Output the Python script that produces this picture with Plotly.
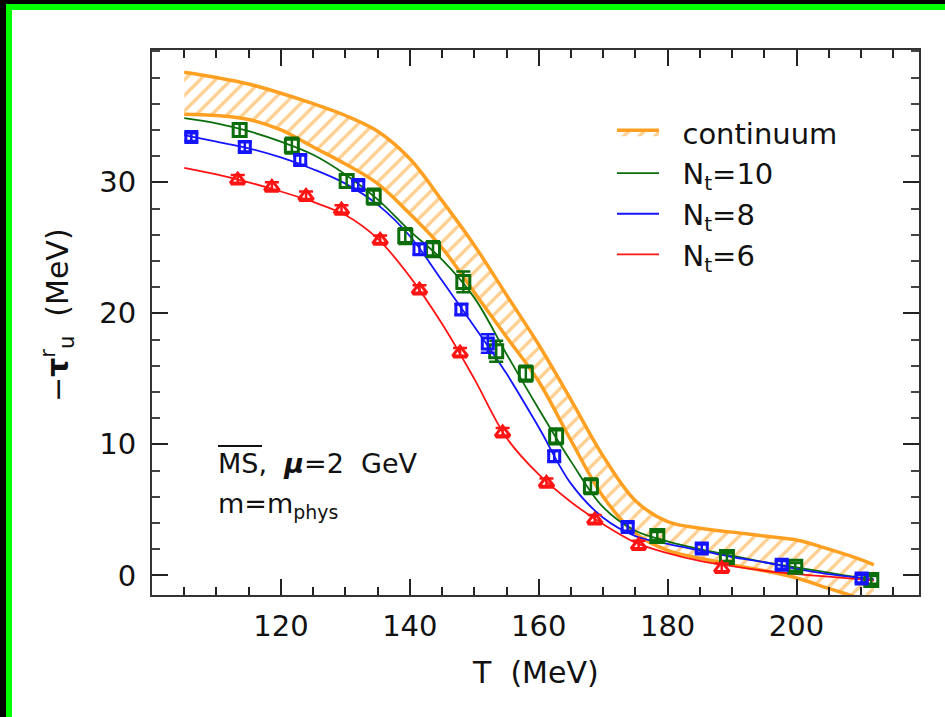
import plotly.graph_objects as go

# ---------------- data ----------------
curve_T = [105, 110, 115, 120, 125, 130, 135, 140, 145, 150, 155, 160, 165, 170,
           175, 180, 185, 190, 195, 200, 205, 210, 212]
band_upper = [38.4, 38.0, 37.5, 36.8, 36.0, 35.1, 33.9, 31.8, 28.6, 25.2, 21.4, 17.6,
              13.4, 9.1, 5.7, 4.1, 3.6, 3.3, 3.0, 2.7, 2.0, 1.2, 0.8]
band_lower = [35.2, 35.1, 34.8, 34.0, 32.7, 31.4, 29.9, 27.6, 25.0, 21.6, 18.2, 14.8,
              10.3, 6.0, 3.2, 1.9, 1.3, 0.8, 0.35, -0.2, -1.0, -1.8, -2.2]
fit_nt10 = [34.9, 34.5, 33.9, 33.1, 32.1, 30.6, 28.7, 26.3, 24.1, 21.2, 16.9, 12.7,
            8.7, 5.2, 3.4, 2.6, 2.0, 1.5, 1.0, 0.6, 0.2, -0.2, -0.35]
fit_nt8 = [33.6, 33.1, 32.6, 31.9, 31.0, 29.9, 28.3, 25.9, 22.5, 19.0, 15.4, 11.3,
           7.0, 4.4, 3.0, 2.4, 1.9, 1.4, 1.0, 0.5, 0.1, -0.2, -0.3]
fit_nt6 = [31.1, 30.6, 30.0, 29.3, 28.5, 27.5, 25.7, 22.8, 19.2, 15.0, 10.5, 7.7,
           5.6, 3.9, 2.5, 1.7, 1.1, 0.7, 0.35, 0.1, -0.1, -0.3, -0.4]

T_nt10 = [113.6, 121.7, 130.2, 134.4, 139.3, 143.6, 148.3, 153.4, 158.0, 162.7, 168.1,
          178.4, 189.2, 199.8, 211.6]
y_nt10 = [34.0, 32.8, 30.1, 28.9, 25.9, 24.9, 22.4, 17.1, 15.4, 10.6, 6.8,
          3.0, 1.4, 0.65, -0.35]
e_nt10 = [0.5, 0.6, 0.5, 0.6, 0.6, 0.6, 0.8, 0.8, 0.6, 0.6, 0.6, 0.3, 0.3, 0.3, 0.3]

T_nt8 = [106.1, 114.4, 123.0, 132.0, 141.5, 148.0, 152.1, 162.4, 173.8, 185.3, 197.7, 210.1]
y_nt8 = [33.45, 32.7, 31.7, 29.8, 24.9, 20.3, 17.7, 9.1, 3.7, 2.05, 0.8, -0.25]
e_nt8 = [0.3, 0.35, 0.35, 0.3, 0.4, 0.4, 0.7, 0.4, 0.3, 0.3, 0.3, 0.3]

T_nt6 = [113.3, 118.6, 123.9, 129.4, 135.4, 141.5, 147.8, 154.4, 161.2, 168.7, 175.5, 188.4]
y_nt6 = [30.2, 29.65, 28.95, 27.9, 25.6, 21.8, 17.0, 10.9, 7.05, 4.25, 2.3, 0.55]
e_nt6 = [0.35] * 12

x_ticks = [120, 140, 160, 180, 200]
y_ticks = [0, 10, 20, 30]
x_range = [100, 219]
y_range = [-1.5, 40.1]

# ---------------- style ----------------
ORANGE = "#FFA022"
GREEN = "#0B6E0B"
BLUE = "#1414FF"
RED = "#FF1414"
FONT = "DejaVu Sans"
TXT = "#111111"

W, H = 945, 717
ML, MR, MT, MB = 152, 26, 50, 122
PW, PH = W - ML - MR, H - MT - MB


def px(x):
    return (x - ML) / PW


def py(y):
    return (H - MB - y) / PH


fig = go.Figure()

# continuum band
fig.add_trace(go.Scatter(x=curve_T, y=band_lower, mode="lines",
                         line=dict(color=ORANGE, width=3.5, shape="spline", smoothing=1.0),
                         showlegend=False, hoverinfo="skip"))
fig.add_trace(go.Scatter(x=curve_T, y=band_upper, mode="lines",
                         name="\u00a0\u00a0continuum",
                         line=dict(color=ORANGE, width=3.5, shape="spline", smoothing=1.0),
                         fill="tonexty", fillcolor="rgba(0,0,0,0)",
                         fillpattern=dict(shape="/", fgcolor=ORANGE, bgcolor="white",
                                          size=11, solidity=0.3),
                         legendrank=1, hoverinfo="skip"))

series = [
    ("\u00a0\u00a0N<sub>t</sub>=10", fit_nt10, T_nt10, y_nt10, e_nt10, GREEN, "square-open", 13, 2),
    ("\u00a0\u00a0N<sub>t</sub>=8", fit_nt8, T_nt8, y_nt8, e_nt8, BLUE, "square-open", 11, 3),
    ("\u00a0\u00a0N<sub>t</sub>=6", fit_nt6, T_nt6, y_nt6, e_nt6, RED, "triangle-up-open", 13, 4),
]
for name, fit, Tp, yp, ep, col, sym, size, rank in series:
    fig.add_trace(go.Scatter(x=curve_T, y=fit, mode="lines", name=name,
                             line=dict(color=col, width=1.8, shape="spline", smoothing=1.0),
                             legendrank=rank, hoverinfo="skip"))
for name, fit, Tp, yp, ep, col, sym, size, rank in series:
    fig.add_trace(go.Scatter(x=Tp, y=yp, mode="markers", showlegend=False,
                             marker=dict(symbol=sym, size=size, color=col,
                                         line=dict(color=col, width=3)),
                             error_y=dict(type="data", array=ep, color=col,
                                          thickness=2.5, width=7)))

axis_common = dict(showline=True, linecolor="#333333", linewidth=2, mirror="ticks",
                   ticks="inside", tickcolor="#222222", tickwidth=2, ticklen=16,
                   showgrid=False, zeroline=False,
                   tickfont=dict(family=FONT, size=29, color=TXT))

fig.update_xaxes(range=x_range, tickvals=x_ticks, ticklabelstandoff=4,
                 minor=dict(ticks="inside", ticklen=8, tickwidth=2, tickcolor="#222222",
                            tick0=100, dtick=5, showgrid=False),
                 **axis_common)
fig.update_yaxes(range=y_range, tickvals=y_ticks, ticklabelstandoff=8,
                 minor=dict(ticks="inside", ticklen=8, tickwidth=2, tickcolor="#444444",
                            tick0=0, dtick=2, showgrid=False),
                 **axis_common)

annotations = [
    dict(text="T  (MeV)", x=px(535), y=py(672), xref="paper", yref="paper",
         xanchor="center", yanchor="middle",
         showarrow=False, font=dict(family=FONT, size=30, color=TXT)),
    dict(text="−<b>τ</b><sup>r</sup><sub>u</sub>  (MeV)", x=px(57), y=py(315),
         xref="paper", yref="paper", textangle=-90, showarrow=False,
         xanchor="center", yanchor="middle",
         font=dict(family=FONT, size=30, color=TXT)),
    dict(text="MS,  <b><i>μ</i></b>=2  GeV", x=px(216), y=py(463), xref="paper",
         yref="paper", xanchor="left", yanchor="middle", showarrow=False,
         font=dict(family=FONT, size=27, color=TXT)),
    dict(text="m=m<sub>phys</sub>", x=px(216), y=py(505), xref="paper",
         yref="paper", xanchor="left", yanchor="middle", showarrow=False,
         font=dict(family=FONT, size=27, color=TXT)),
]

shapes = [
    # overline on MS
    dict(type="line", xref="paper", yref="paper", x0=px(218), x1=px(262),
         y0=py(446), y1=py(446), line=dict(color=TXT, width=2)),
    # outer frame: black strips and green border
    dict(type="rect", xref="paper", yref="paper", x0=px(0), x1=px(W), y0=py(0), y1=py(4),
         fillcolor="black", line=dict(width=0), layer="above"),
    dict(type="rect", xref="paper", yref="paper", x0=px(0), x1=px(6), y0=py(0), y1=py(H),
         fillcolor="black", line=dict(width=0), layer="above"),
    dict(type="rect", xref="paper", yref="paper", x0=px(6), x1=px(W), y0=py(4), y1=py(10),
         fillcolor="#00FF00", line=dict(width=0), layer="above"),
    dict(type="rect", xref="paper", yref="paper", x0=px(6), x1=px(12), y0=py(4), y1=py(H),
         fillcolor="#00FF00", line=dict(width=0), layer="above"),
]

fig.update_layout(
    width=W, height=H,
    margin=dict(l=ML, r=MR, t=MT, b=MB),
    paper_bgcolor="white", plot_bgcolor="white",
    font=dict(family=FONT, color=TXT),
    legend=dict(x=px(612), y=py(107), xanchor="left", yanchor="top",
                bgcolor="rgba(0,0,0,0)", itemwidth=42, traceorder="normal",
                font=dict(family=FONT, size=29, color=TXT),
                tracegroupgap=0),
    annotations=annotations,
    shapes=shapes,
)

fig.write_html("out.html",
               config={"displayModeBar": False},
               post_script="document.body.style.margin='0';"
                           "document.body.style.background='white';"
                           "document.documentElement.style.background='white';"
                           "document.documentElement.style.overflow='hidden';"
                           "document.body.style.overflow='hidden';")
